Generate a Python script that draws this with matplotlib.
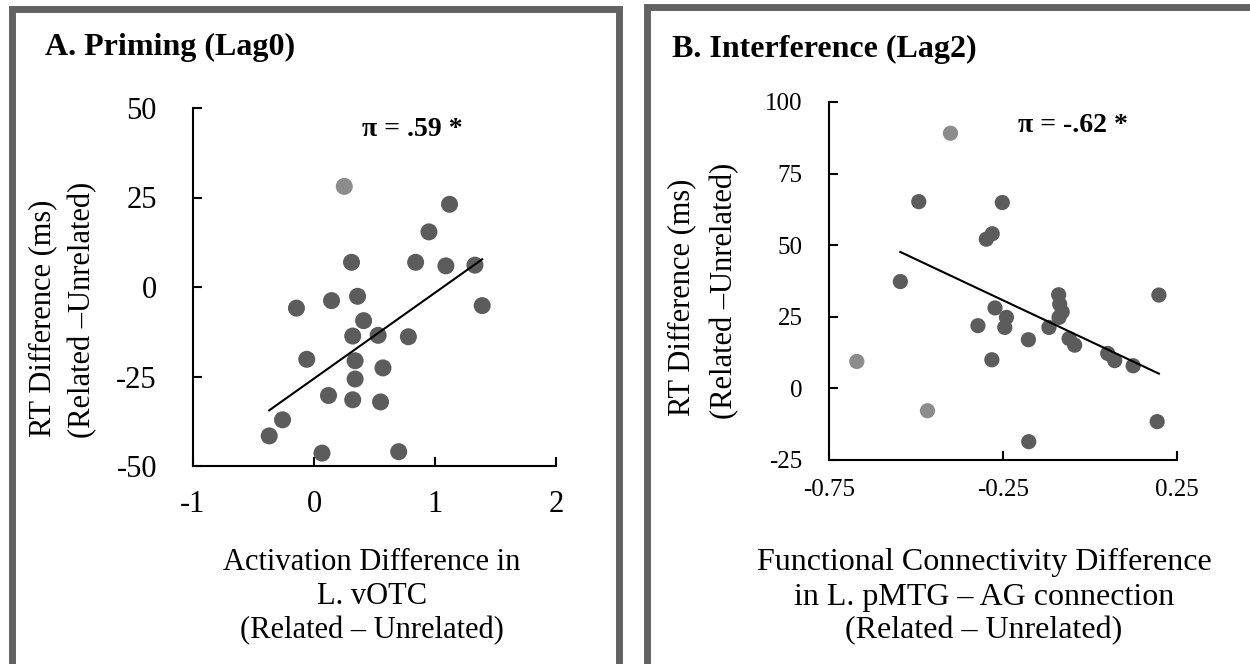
import numpy as np
import matplotlib
matplotlib.use("Agg")
import matplotlib.pyplot as plt
from matplotlib.patches import Rectangle

plt.rcParams["font.family"] = ["Liberation Serif", "DejaVu Serif"]

# Panel A: priming (Lag0)
a_x = [0.25, 1.12, 0.95, 0.31, 0.84, 1.09, 1.33, 1.39, -0.145, 0.145, 0.36, 0.41, 0.32,
       0.53, 0.78, -0.06, 0.34, 0.57, 0.34, 0.12, 0.32, 0.55, -0.26, -0.37, 0.066, 0.70]
a_y = [28.1, 23.1, 15.4, 6.9, 6.9, 5.9, 6.1, -5.2, -5.9, -3.8, -2.6, -9.4, -13.7,
       -13.5, -13.9, -20.2, -20.6, -22.6, -25.7, -30.3, -31.5, -32.1, -37.1, -41.6, -46.4, -46.0]
a_light = [0]  # lighter points, left out of the fit line

# Panel B: interference (Lag2)
b_x = [-0.401, -0.492, -0.252, -0.298, -0.281, -0.545, -0.670, -0.467, -0.273, -0.322,
       -0.240, -0.245, -0.282, -0.177, -0.176, -0.118, -0.090, -0.087, -0.080, -0.089,
       -0.060, -0.044, 0.051, 0.071, 0.124, 0.198, 0.193]
b_y = [89.1, 65.2, 64.9, 52.1, 54.0, 37.3, 9.4, -7.8, 28.1, 21.9, 24.8, 21.3, 10.0,
       17.0, -18.6, 21.3, 32.7, 29.4, 26.7, 24.8, 17.4, 15.1, 12.2, 9.7, 7.9, 32.6, -11.6]
b_light = [0, 6, 7]

W, H = 1250, 664
fig = plt.figure(figsize=(W / 100, H / 100), dpi=100)

DARK = "#5c5c5c"
LIGHT = "#8c8c8c"
BORDER = "#626262"


def fx(px):
    return px / W


def fy(py):
    return 1 - py / H


# panel frames
fig.patches.append(Rectangle((fx(11.5), fy(667)), fx(607), fy(8.5) - fy(667),
                             transform=fig.transFigure, fill=False, edgecolor=BORDER, linewidth=5))
fig.patches.append(Rectangle((fx(646.5), fy(667)), fx(620), fy(7) - fy(667),
                             transform=fig.transFigure, fill=False, edgecolor=BORDER, linewidth=5))


def scatter_panel(rect, xs, ys, light, xlim, ylim, xticks, yticks, xfmt, tick_fs, ms, xpad, ypad):
    ax = fig.add_axes(rect)
    xs = np.array(xs)
    ys = np.array(ys)
    keep = np.array([i not in light for i in range(len(xs))])
    cols = [DARK if k else LIGHT for k in keep]
    ax.scatter(xs, ys, s=ms, c=cols, edgecolors="none", zorder=3)
    k, b = np.polyfit(xs[keep], ys[keep], 1)
    lx = np.array([xs[keep].min(), xs[keep].max()])
    ax.plot(lx, k * lx + b, color="black", linewidth=1.5, zorder=4)
    ax.set_xlim(xlim)
    ax.set_ylim(ylim)
    ax.set_xticks(xticks)
    ax.set_xticklabels([xfmt(t) for t in xticks])
    ax.set_yticks(yticks)
    ax.set_yticklabels([str(t) for t in yticks])
    for s in ["top", "right"]:
        ax.spines[s].set_visible(False)
    for s in ["left", "bottom"]:
        ax.spines[s].set_linewidth(1.5)
    ax.tick_params(direction="in", length=6.5, width=1.5, labelsize=tick_fs)
    ax.tick_params(axis="x", pad=xpad)
    ax.tick_params(axis="y", pad=ypad)
    ax.patch.set_alpha(0)
    return ax


scatter_panel([fx(193), fy(466), fx(363), fy(108) - fy(466)], a_x, a_y, a_light,
              (-1, 2), (-50, 50), [-1, 0, 1, 2], [-50, -25, 0, 25, 50],
              lambda t: str(t), 22, 150, 17, 26)

scatter_panel([fx(829), fy(460), fx(348), fy(102) - fy(460)], b_x, b_y, b_light,
              (-0.75, 0.25), (-25, 100), [-0.75, -0.25, 0.25], [-25, 0, 25, 50, 75, 100],
              lambda t: f"{t:.2f}", 18, 120, 14, 19)

# titles and r values
fig.text(fx(45), fy(47), "A. Priming (Lag0)", fontsize=23, fontweight="bold", va="center")
fig.text(fx(672), fy(49), "B. Interference (Lag2)", fontsize=23, fontweight="bold", va="center")
fig.text(fx(362), fy(130), "π = .59 *", fontsize=20, fontweight="bold", va="center")
fig.text(fx(1018), fy(125), "π = -.62 *", fontsize=20, fontweight="bold", va="center")

# y labels
fig.text(fx(43), fy(318), "RT Difference (ms)", fontsize=22, rotation=90, ha="center", va="center")
fig.text(fx(83), fy(310), "(Related –Unrelated)", fontsize=22, rotation=90, ha="center", va="center")
fig.text(fx(682), fy(297), "RT Difference (ms)", fontsize=22, rotation=90, ha="center", va="center")
fig.text(fx(725), fy(291), "(Related –Unrelated)", fontsize=22, rotation=90, ha="center", va="center")

# x labels
a_xlabel = ["Activation Difference in", "L. vOTC", "(Related – Unrelated)"]
b_xlabel = ["Functional Connectivity Difference", "in L. pMTG – AG connection", "(Related – Unrelated)"]
for line, py in zip(a_xlabel, [562, 597, 631]):
    fig.text(fx(372), fy(py), line, fontsize=22, ha="center", va="center")
for line, py in zip(b_xlabel, [562, 597, 631]):
    fig.text(fx(984), fy(py), line, fontsize=23, ha="center", va="center")

fig.savefig("out.png", dpi=100)
